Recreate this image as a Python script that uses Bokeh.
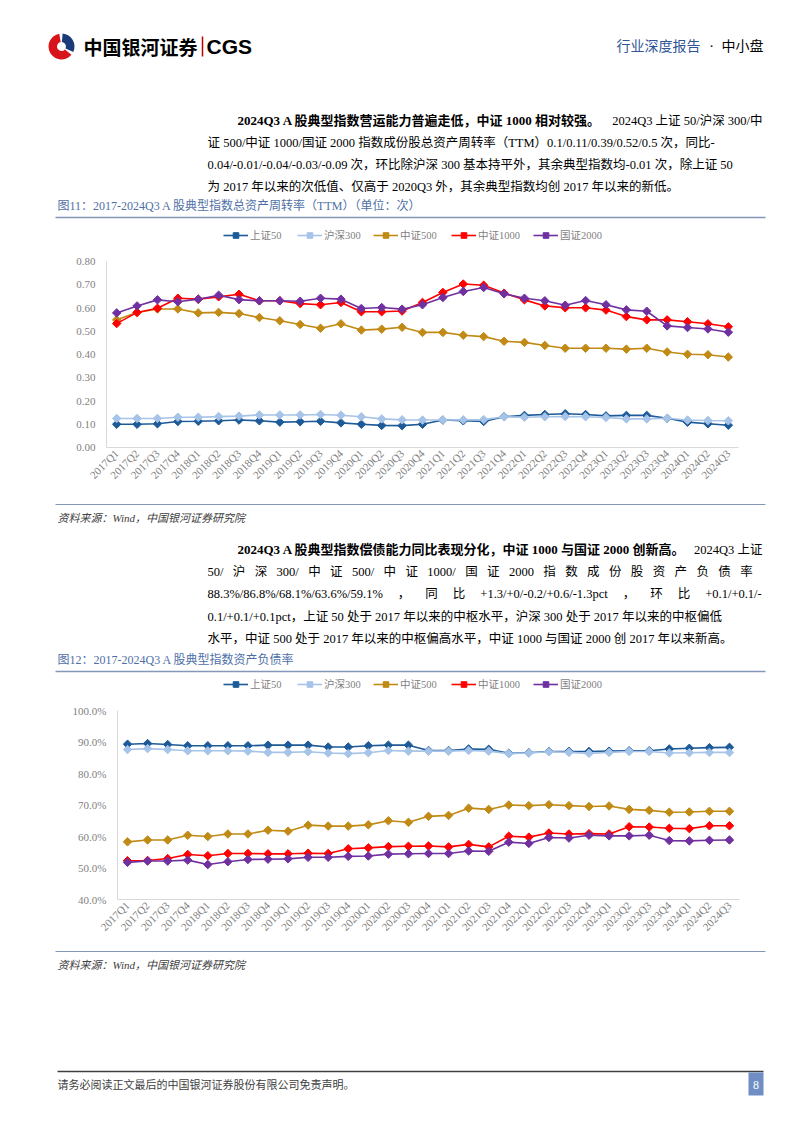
import math
from bokeh.plotting import figure
from bokeh.models import Range1d, FactorRange, Legend, LegendItem, PrintfTickFormatter, FixedTicker
from bokeh.layouts import column
from bokeh.embed import file_html
from bokeh.resources import INLINE
from bokeh.core.properties import value

# ---------------- data ----------------
quarters = ["2017Q1", "2017Q2", "2017Q3", "2017Q4", "2018Q1", "2018Q2", "2018Q3", "2018Q4",
            "2019Q1", "2019Q2", "2019Q3", "2019Q4", "2020Q1", "2020Q2", "2020Q3", "2020Q4",
            "2021Q1", "2021Q2", "2021Q3", "2021Q4", "2022Q1", "2022Q2", "2022Q3", "2022Q4",
            "2023Q1", "2023Q2", "2023Q3", "2023Q4", "2024Q1", "2024Q2", "2024Q3"]
series_names = ["上证50", "沪深300", "中证500", "中证1000", "国证2000"]
series_colors = ["#1C5A98", "#A6C3E8", "#C08A14", "#FF0000", "#7030A0"]

# 图11 总资产周转率(TTM)
sz50_turn = [0.100, 0.100, 0.102, 0.112, 0.113, 0.115, 0.118, 0.115, 0.109, 0.111, 0.113, 0.106, 0.100, 0.095, 0.094, 0.100,
             0.118, 0.115, 0.112, 0.132, 0.138, 0.142, 0.145, 0.142, 0.136, 0.138, 0.138, 0.126, 0.109, 0.102, 0.096]
hs300_turn = [0.125, 0.125, 0.125, 0.130, 0.130, 0.133, 0.135, 0.140, 0.140, 0.140, 0.142, 0.139, 0.132, 0.123, 0.119, 0.118,
              0.118, 0.119, 0.120, 0.132, 0.130, 0.132, 0.133, 0.132, 0.129, 0.123, 0.123, 0.126, 0.118, 0.116, 0.115]
zz500_turn = [0.549, 0.581, 0.596, 0.596, 0.579, 0.581, 0.576, 0.559, 0.545, 0.529, 0.513, 0.532, 0.505, 0.509, 0.517, 0.495,
              0.495, 0.483, 0.477, 0.457, 0.452, 0.439, 0.427, 0.427, 0.427, 0.423, 0.427, 0.411, 0.401, 0.399, 0.389]
zz1000_turn = [0.533, 0.581, 0.599, 0.642, 0.638, 0.648, 0.659, 0.631, 0.631, 0.619, 0.614, 0.624, 0.584, 0.584, 0.587, 0.624,
               0.667, 0.703, 0.698, 0.664, 0.635, 0.609, 0.601, 0.601, 0.591, 0.563, 0.549, 0.549, 0.541, 0.532, 0.519]
gz2000_turn = [0.579, 0.609, 0.635, 0.627, 0.638, 0.655, 0.636, 0.631, 0.631, 0.629, 0.642, 0.638, 0.598, 0.602, 0.595, 0.614,
               0.645, 0.671, 0.688, 0.661, 0.642, 0.631, 0.612, 0.632, 0.614, 0.592, 0.586, 0.523, 0.516, 0.510, 0.496]
turn_ticks = [0.0, 0.1, 0.2, 0.3, 0.4, 0.5, 0.6, 0.7, 0.8]

# 图12 资产负债率 (%)
sz50_debt = [89.3, 89.5, 89.2, 88.8, 88.8, 88.8, 88.8, 89.0, 89.0, 89.0, 88.4, 88.4, 88.8, 89.0, 89.0, 87.3,
             87.3, 87.8, 87.7, 86.4, 86.6, 87.0, 87.0, 87.0, 87.1, 87.2, 87.2, 87.8, 88.0, 88.2, 88.3]
hs300_debt = [87.6, 87.9, 87.6, 87.2, 87.2, 87.2, 87.1, 86.7, 86.7, 86.9, 86.5, 86.3, 86.6, 87.3, 87.1, 87.1,
              87.1, 87.3, 87.1, 86.3, 86.5, 86.9, 86.7, 86.4, 86.7, 87.0, 87.0, 86.5, 86.6, 86.7, 86.7]
zz500_debt = [58.3, 58.9, 58.9, 60.4, 60.0, 60.8, 60.8, 62.0, 61.7, 63.6, 63.3, 63.3, 63.7, 65.0, 64.5, 66.4,
              66.7, 69.0, 68.6, 70.0, 69.8, 70.1, 69.8, 69.5, 69.7, 68.6, 68.3, 67.7, 67.8, 68.0, 68.0]
zz1000_debt = [52.3, 52.4, 53.0, 54.3, 53.9, 54.6, 54.6, 54.5, 54.5, 54.7, 54.6, 56.1, 56.4, 56.8, 56.9, 57.0,
               56.7, 57.5, 56.7, 60.1, 59.8, 61.1, 60.8, 60.9, 60.8, 63.1, 63.0, 62.6, 62.5, 63.4, 63.4]
gz2000_debt = [51.8, 52.2, 52.2, 52.5, 51.1, 52.0, 52.7, 52.8, 52.9, 53.4, 53.4, 53.7, 53.8, 54.4, 54.5, 54.6,
               54.6, 55.4, 55.3, 58.2, 57.8, 59.7, 59.5, 60.4, 60.2, 60.2, 60.4, 58.7, 58.6, 58.8, 58.9]
debt_ticks = [40, 50, 60, 70, 80, 90, 100]

# ---------------- texts ----------------
para1_bold = "2024Q3 A 股典型指数营运能力普遍走低，中证 1000 相对较强。"
para1_first_rest = "2024Q3 上证 50/沪深 300/中"
para1_lines = ["证 500/中证 1000/国证 2000 指数成份股总资产周转率（TTM）0.1/0.11/0.39/0.52/0.5 次，同比-",
               "0.04/-0.01/-0.04/-0.03/-0.09 次，环比除沪深 300 基本持平外，其余典型指数均-0.01 次，除上证 50",
               "为 2017 年以来的次低值、仅高于 2020Q3 外，其余典型指数均创 2017 年以来的新低。"]
caption1 = "图11：2017-2024Q3 A 股典型指数总资产周转率（TTM）（单位：次）"
para2_bold = "2024Q3 A 股典型指数偿债能力同比表现分化，中证 1000 与国证 2000 创新高。"
para2_first_rest = "2024Q3 上证"
para2_line2_words = ["50/", "沪", "深", "300/", "中", "证", "500/", "中", "证", "1000/", "国", "证", "2000",
                     "指", "数", "成", "份", "股", "资", "产", "负", "债", "率"]
para2_line3_words = ["88.3%/86.8%/68.1%/63.6%/59.1%", "，", "同", "比", "+1.3/+0/-0.2/+0.6/-1.3pct",
                     "，", "环", "比", "+0.1/+0.1/-"]
para2_lines_rest = ["0.1/+0.1/+0.1pct，上证 50 处于 2017 年以来的中枢水平，沪深 300 处于 2017 年以来的中枢偏低",
                    "水平，中证 500 处于 2017 年以来的中枢偏高水平，中证 1000 与国证 2000 创 2017 年以来新高。"]
caption2 = "图12：2017-2024Q3 A 股典型指数资产负债率"
source_text = "资料来源：Wind，中国银河证券研究院"
footer_text = "请务必阅读正文最后的中国银河证券股份有限公司免责声明。"

W = 802
SERIF = "'Liberation Serif', 'Noto Sans CJK SC', serif"
SANS = "'Noto Sans CJK SC', 'Liberation Sans', sans-serif"
CAP_COLOR = "#4E6FA6"
RULE_COLOR = "#8497B8"
LABEL_GRAY = "#7F7F7F"
BODY = 12.5


def page_fig(top, bottom):
    p = figure(width=W, height=bottom - top, x_range=Range1d(0, W), y_range=Range1d(bottom, top),
               output_backend="svg", toolbar_location=None, x_axis_type=None, y_axis_type=None,
               min_border_left=0, min_border_right=0, min_border_top=0, min_border_bottom=0,
               frame_align=False)
    p.outline_line_color = None
    return p


def txt(p, x, y, s, size, color="#000000", font=SERIF, style="normal", align="left"):
    p.text(x=[x], y=[y], text=[s], text_font=value(font), text_font_size=f"{size}px",
           text_color=color, text_font_style=style, text_align=align, text_baseline="middle")


def hrule(p, x0, x1, y, color, width):
    p.segment(x0=[x0], y0=[y], x1=[x1], y1=[y], line_color=color, line_width=width)


def add_legend(p, fig_bottom, y_center):
    # legend of the chart below, drawn in the band above its plot area
    legend_x = [223, 297, 373, 451, 533]
    for i, name in enumerate(series_names):
        lr = p.line(x=[-60, -50], y=[y_center, y_center], line_color=series_colors[i], line_width=1.6)
        sr = p.scatter(x=[-55], y=[y_center], marker="square", angle=math.pi / 4, size=6,
                       fill_color=series_colors[i], line_color=series_colors[i])
        leg = Legend(items=[LegendItem(label=name, renderers=[lr, sr])],
                     location=(legend_x[i], fig_bottom - y_center - 7), orientation="horizontal",
                     padding=0, margin=0, spacing=0, border_line_color=None, background_fill_alpha=0,
                     glyph_width=25, glyph_height=14, label_height=14, label_standoff=2,
                     label_text_font=SERIF, label_text_font_size="10.5px",
                     label_text_color=LABEL_GRAY, label_text_baseline="middle")
        p.add_layout(leg, "center")


def chart_fig(top, bottom, frame_top, frame_bottom, frame_left, frame_right, ylo, yhi, ticks, fmt, series):
    p = figure(width=W, height=bottom - top, x_range=FactorRange(*quarters), y_range=Range1d(ylo, yhi),
               output_backend="svg", toolbar_location=None, frame_align=False,
               min_border_top=round(frame_top - top), min_border_bottom=round(bottom - frame_bottom),
               min_border_left=round(frame_left), min_border_right=round(W - frame_right))
    p.outline_line_color = None
    p.xgrid.visible = False
    p.ygrid.visible = False
    for ax in (p.xaxis, p.yaxis):
        ax.axis_line_color = "#D9D9D9"
        ax.axis_line_width = 1
        ax.major_tick_line_color = None
        ax.minor_tick_line_color = None
        ax.major_tick_out = 0
        ax.major_tick_in = 0
        ax.major_label_text_font = SERIF
        ax.major_label_text_color = LABEL_GRAY
        ax.major_label_text_font_size = "11px"
    p.yaxis.ticker = FixedTicker(ticks=ticks)
    p.yaxis.formatter = PrintfTickFormatter(format=fmt)
    p.yaxis.major_label_standoff = 11
    p.xaxis.major_label_orientation = math.pi / 4
    p.xaxis.major_label_standoff = 4
    for i, vals in enumerate(series):
        p.line(x=quarters, y=vals, line_color=series_colors[i], line_width=1.6)
        p.scatter(x=quarters, y=vals, marker="square", angle=math.pi / 4, size=6,
                  fill_color=series_colors[i], line_color=series_colors[i])
    return p


# ---------------- top block: header + paragraph 1 + caption + legend ----------------
top = page_fig(0, 248)
top.annular_wedge(x=[61], y=[46], inner_radius=4.5, outer_radius=13, start_angle=math.radians(100),
                  end_angle=math.radians(320), fill_color="#D7141A", line_color=None)
top.annular_wedge(x=[61], y=[46], inner_radius=4.5, outer_radius=13, start_angle=math.radians(335),
                  end_angle=math.radians(85), fill_color="#1A3A7A", line_color=None)
txt(top, 83, 46, "中国银河证券", 19, "#000000", SANS, "bold")
top.segment(x0=[202], y0=[36], x1=[202], y1=[56], line_color="#C00000", line_width=1.5)
txt(top, 206, 46, "CGS", 21, "#000000", "'Liberation Sans', sans-serif", "bold")
txt(top, 616, 46, "行业深度报告", 14, "#2F5597", SERIF)
txt(top, 711, 46, "·", 14, "#000000", SERIF, align="center")
txt(top, 721, 46, "中小盘", 14, "#000000", SERIF)

txt(top, 237, 120, para1_bold, 13, "#000000", SERIF, "bold")
txt(top, 762, 120, para1_first_rest, BODY, "#000000", SERIF, align="right")
for k, line in enumerate(para1_lines):
    txt(top, 207, 142 + 22 * k, line, BODY, "#000000", SERIF)
txt(top, 57, 205, caption1, 12, CAP_COLOR, SERIF)
hrule(top, 55, 765, 217, RULE_COLOR, 1.5)
add_legend(top, 248, 235.3)

# ---------------- chart 1 ----------------
chart1 = chart_fig(248, 500, 260.7, 446.7, 106.0, 738.3, 0, 0.8, turn_ticks, "%.2f",
                   [sz50_turn, hs300_turn, zz500_turn, zz1000_turn, gz2000_turn])

# ---------------- middle block ----------------
mid = page_fig(500, 697)
hrule(mid, 55, 765, 504, RULE_COLOR, 1.2)
txt(mid, 57, 517, source_text, 11, "#404040", SERIF, "italic")
txt(mid, 237, 549, para2_bold, 13, "#000000", SERIF, "bold")
txt(mid, 762, 549, para2_first_rest, BODY, "#000000", SERIF, align="right")
txt(mid, 207, 571, " \u2002".join(para2_line2_words), BODY, "#000000", SERIF)
txt(mid, 207, 593.5, "\u2003\u2009".join(para2_line3_words), BODY, "#000000", SERIF)
for k, line in enumerate(para2_lines_rest):
    txt(mid, 207, 616 + 22.3 * k, line, BODY, "#000000", SERIF)
txt(mid, 57, 659, caption2, 12, CAP_COLOR, SERIF)
hrule(mid, 55, 765, 671, RULE_COLOR, 1.5)
add_legend(mid, 697, 684.3)

# ---------------- chart 2 ----------------
chart2 = chart_fig(697, 948, 710.0, 898.7, 116.6, 739.3, 40, 100, debt_ticks, "%.1f%%",
                   [sz50_debt, hs300_debt, zz500_debt, zz1000_debt, gz2000_debt])

# ---------------- bottom block ----------------
bot = page_fig(948, 1132)
hrule(bot, 55, 765, 951, RULE_COLOR, 1.2)
txt(bot, 57, 964, source_text, 11, "#404040", SERIF, "italic")
hrule(bot, 57, 763, 1071, "#404040", 1.5)
txt(bot, 57, 1084, footer_text, 11, "#404040", SERIF)
bot.rect(x=[755.5], y=[1083.5], width=15, height=23, fill_color="#6F8FC4", line_color=None)
txt(bot, 755.5, 1084, "8", 12, "#FFFFFF", SERIF, align="center")

page = column(top, chart1, mid, chart2, bot, spacing=0)
open("out.html", "w").write(file_html(page, INLINE))
